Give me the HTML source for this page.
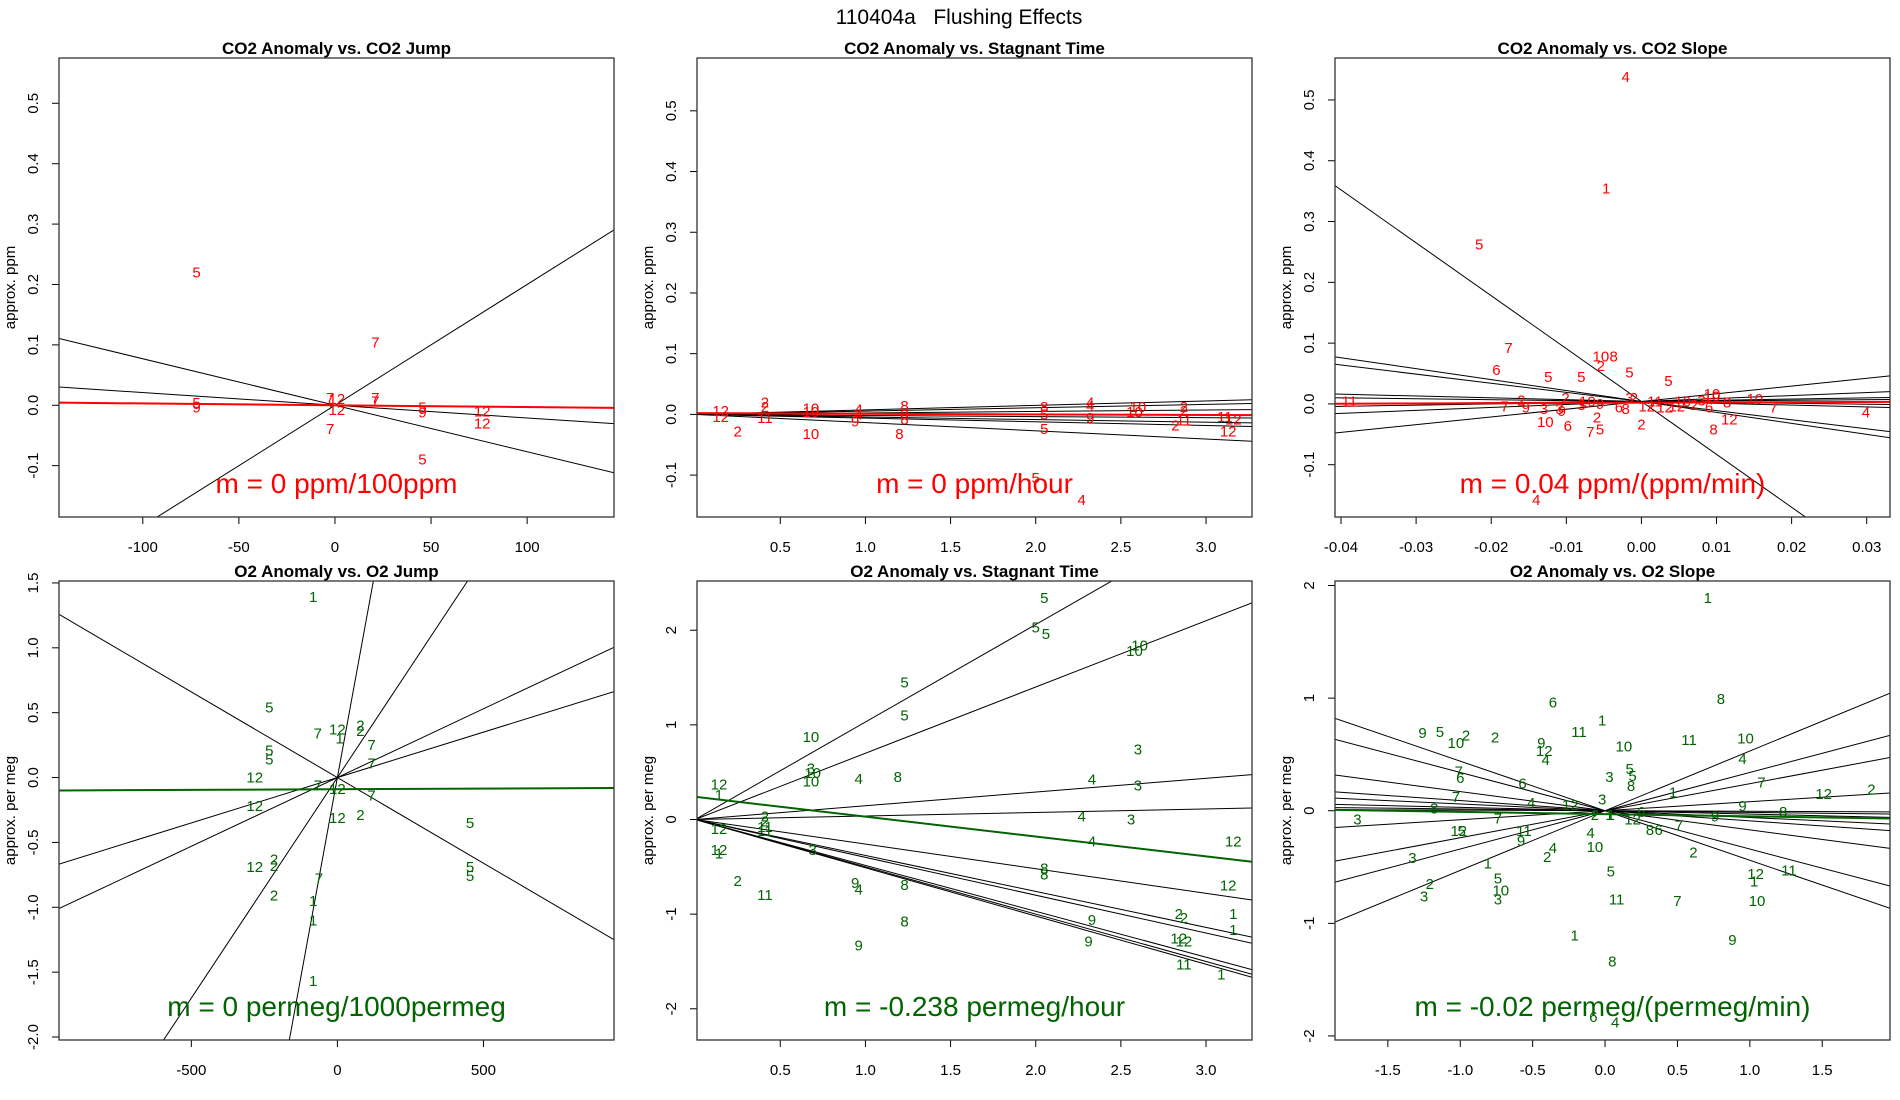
<!DOCTYPE html>
<html><head><meta charset="utf-8">
<style>
html,body{margin:0;padding:0;background:#fff;width:1900px;height:1100px;overflow:hidden;}
svg{display:block;font-family:"Liberation Sans",Arial,sans-serif;}
</style></head>
<body>
<svg id="chart" width="1900" height="1100" viewBox="0 0 1900 1100">
<rect x="0" y="0" width="1900" height="1100" fill="#fff"/>
<text x="959" y="24" font-size="21" text-anchor="middle" xml:space="preserve" style="white-space:pre">110404a   Flushing Effects</text>
</svg>
<script>
// ---------- data arrays (top-level) ----------
// Panel 1: CO2 anomaly vs CO2 jump
const p1Labels = ["5","5","9","7","7","12","12","7","7","7","5","9","12","12","5"];
const p1X = [-72,-72,-72,21,-2.5,1,1,21,21,-2.5,45.5,45.5,76.6,76.6,45.5];
const p1Y = [0.22,0.004,-0.004,0.104,0.012,0.01,-0.008,0.012,0.006,-0.039,-0.004,-0.012,-0.01,-0.03,-0.09];
const p1Slopes = [-0.00077,0.002,-0.00021];
const p1Fit = [0.0,-0.00003];
const p1Text = "m = 0 ppm/100ppm";

// Panel 2: CO2 anomaly vs stagnant time
const p2Labels = ["12","12","2","2","2","11","10","10","10","4","4","9","8","8","8","8","8","5","5","5","4","4","4","9","10","10","2","2","11","2","11","12","12"];
const p2X = [0.15,0.15,0.25,0.41,0.41,0.41,0.68,0.68,0.68,0.96,0.96,0.94,1.23,1.23,1.23,1.2,2.05,2.05,2.05,2.0,2.27,2.32,2.32,2.32,2.6,2.58,2.87,2.87,2.87,2.82,3.11,3.16,3.13];
const p2Y = [0.006,-0.004,-0.028,0.02,0.012,-0.006,0.01,0.004,-0.032,0.008,0.0,-0.012,0.014,0.0,-0.008,-0.032,0.012,0.0,-0.024,-0.105,-0.141,0.02,0.014,-0.006,0.012,0.004,0.012,0.006,-0.01,-0.018,-0.004,-0.008,-0.028];
const p2Slopes = [0.0074,0.0055,0.0024,-0.0018,-0.0043,-0.0061,-0.0135];
const p2Fit = [0.002,-0.001];
const p2Text = "m = 0 ppm/hour";

// Panel 3: CO2 anomaly vs CO2 slope
const p3Labels = ["4","1","5","7","6","10","8","2","5","5","5","5","11","7","2","9","3","3","9","2","10","6","7","5","2","2","8","12","10","10","10","7","4","8","6","4","3","10","9","6","8","3","2","12","11","12","12","10","2","3"];
const p3X = [-0.0021,-0.0047,-0.0216,-0.0177,-0.0193,-0.0054,-0.0037,-0.0054,-0.0124,-0.008,-0.0016,0.0036,-0.0389,-0.0182,-0.016,-0.0154,-0.013,-0.0109,-0.0106,-0.0101,-0.0128,-0.0098,-0.0068,-0.0055,-0.0059,0.0,0.0096,0.0117,0.0094,0.0094,0.0151,0.0176,0.0299,0.0114,0.009,-0.014,-0.008,-0.0072,-0.0055,-0.003,-0.0021,-0.0016,-0.001,0.0007,0.0018,0.0031,0.0047,0.0055,0.007,0.008];
const p3Y = [0.538,0.354,0.262,0.092,0.056,0.078,0.078,0.062,0.044,0.044,0.052,0.038,0.004,-0.004,0.006,-0.006,-0.008,-0.008,-0.012,0.01,-0.03,-0.036,-0.046,-0.042,-0.022,-0.034,-0.042,-0.026,0.016,0.012,0.008,-0.006,-0.014,0.002,-0.006,-0.158,-0.002,0.004,0.0,-0.006,-0.008,0.01,0.01,-0.004,0.004,-0.006,-0.004,0.004,-0.002,0.006];
const p3Slopes = [-8.7,-1.8,-1.5,1.27,0.49,-0.3,-0.15,0.1,0.2];
const p3Intercept = 0.004;
const p3Fit = [0.002,0.04];
const p3Text = "m = 0.04 ppm/(ppm/min)";

// Panel 4: O2 anomaly vs O2 jump
const p4Labels = ["1","5","7","12","1","2","2","7","7","5","5","12","7","12","7","12","12","2","5","2","2","12","5","5","7","2","1","1","1"];
const p4X = [-83,-233,-67,0,8,79,79,117,117,-233,-233,-283,-67,0,117,-283,0,79,454,-217,-217,-283,454,454,-63,-217,-83,-83,-83];
const p4Y = [1.39,0.54,0.34,0.37,0.30,0.40,0.36,0.25,0.11,0.21,0.14,0.0,-0.06,-0.09,-0.14,-0.22,-0.31,-0.29,-0.35,-0.63,-0.68,-0.69,-0.69,-0.76,-0.78,-0.91,-0.95,-1.10,-1.57];
const p4Slopes = [-0.00132,0.00106,0.0007,0.0123,0.0034];
const p4Fit = [-0.09,0.00001];
const p4Text = "m = 0 permeg/1000permeg";

// Panel 5: O2 anomaly vs stagnant time
const p5Labels = ["5","5","5","10","10","5","5","10","3","10","10","4","8","12","1","3","4","3","4","3","2","2","11","11","12","12","1","3","4","12","9","4","8","8","8","2","11","12","8","9","9","2","2","1","1","9","12","12","11","1"];
const p5X = [2.05,2.0,2.06,2.61,2.58,1.23,1.23,0.68,0.68,0.69,0.68,0.96,1.19,0.14,0.14,2.6,2.33,2.6,2.27,2.56,0.41,0.41,0.41,0.41,0.14,0.14,0.14,0.69,2.33,3.16,0.94,0.96,1.23,2.05,2.05,0.25,0.41,3.13,1.23,0.96,2.33,2.84,2.87,3.16,3.16,2.31,2.84,2.87,2.87,3.09];
const p5Y = [2.34,2.03,1.96,1.84,1.78,1.45,1.1,0.87,0.54,0.49,0.4,0.43,0.45,0.37,0.26,0.74,0.42,0.36,0.03,0.0,0.03,-0.02,-0.08,-0.12,-0.1,-0.32,-0.36,-0.32,-0.23,-0.23,-0.67,-0.74,-0.69,-0.52,-0.58,-0.65,-0.8,-0.7,-1.08,-1.33,-1.06,-1.0,-1.04,-1.0,-1.17,-1.29,-1.26,-1.29,-1.53,-1.64];
const p5Slopes = [1.03,0.70,0.145,0.037,-0.26,-0.38,-0.40,-0.485,-0.50,-0.51];
const p5Fit = [0.24,-0.21];
const p5Text = "m = -0.238 permeg/hour";

// Panel 6: O2 anomaly vs O2 slope
const p6Labels = ["1","8","6","1","11","11","10","9","5","10","2","2","9","12","4","10","4","3","5","5","8","7","6","6","7","7","1","3","4","12","12","2","9","8","8","3","7","2","1","1","6","12","9","7","8","6","12","5","11","9","4","2","4","2","10","3","1","12","1","11","5","5","10","3","2","3","11","7","10","1","9","8","6","4"];
const p6X = [0.71,0.80,-0.36,-0.02,-0.18,0.58,0.97,-1.26,-1.14,-1.03,-0.96,-0.76,-0.44,-0.42,-0.41,0.13,0.95,0.03,0.17,0.19,0.18,-1.01,-1.0,-0.57,1.08,-1.03,0.47,-0.02,-0.51,-0.24,1.51,1.84,0.95,-1.18,1.23,-1.71,-0.74,-0.07,0.03,0.04,0.25,0.19,0.76,0.51,0.31,0.37,-1.01,-0.99,-0.56,-0.58,-0.10,0.61,-0.36,-0.40,-0.07,-1.33,-0.81,1.04,1.03,1.27,0.04,-0.74,-0.72,-0.74,-1.21,-1.25,0.08,0.50,1.05,-0.21,0.88,0.05,-0.08,0.07];
const p6Y = [1.89,0.99,0.96,0.80,0.70,0.63,0.64,0.69,0.70,0.60,0.67,0.65,0.60,0.53,0.45,0.57,0.46,0.30,0.37,0.31,0.22,0.35,0.29,0.24,0.25,0.12,0.16,0.10,0.07,0.05,0.15,0.19,0.04,0.02,-0.01,-0.08,-0.07,-0.04,-0.04,-0.04,-0.01,-0.08,-0.05,-0.13,-0.17,-0.17,-0.18,-0.18,-0.18,-0.27,-0.20,-0.37,-0.33,-0.41,-0.32,-0.42,-0.47,-0.56,-0.63,-0.53,-0.54,-0.60,-0.71,-0.79,-0.65,-0.76,-0.79,-0.80,-0.80,-1.11,-1.15,-1.34,-1.83,-1.88];
const p6Slopes = [0.53,0.34,0.24,0.08,-0.005,-0.015,-0.03,-0.06,-0.09,-0.17,-0.34,-0.44];
const p6Fit = [-0.03,-0.02];
const p6Text = "m = -0.02 permeg/(permeg/min)";

// tick labels
const p1XTicks = [-100,-50,0,50,100];
const p2XTicks = [0.5,1.0,1.5,2.0,2.5,3.0];
const p3XTicks = [-0.04,-0.03,-0.02,-0.01,0.00,0.01,0.02,0.03];
const p4XTicks = [-500,0,500];
const p6XTicks = [-1.5,-1.0,-0.5,0.0,0.5,1.0,1.5];
const coYTicks = [-0.1,0.0,0.1,0.2,0.3,0.4,0.5];
const p4YTicks = [-2.0,-1.5,-1.0,-0.5,0.0,0.5,1.0,1.5];
const o2YTicks = [-2,-1,0,1,2];

// ---------- rendering ----------
const NS = "http://www.w3.org/2000/svg";
const svg = document.getElementById("chart");
function mk(tag, attrs, parent){
  const e = document.createElementNS(NS, tag);
  for (const k in attrs) e.setAttribute(k, attrs[k]);
  (parent||svg).appendChild(e);
  return e;
}
const RED = "#ff0000", GREEN = "#006400";
const panels = [
  {id:"co2-jump", title:"CO2 Anomaly vs. CO2 Jump", col:0,row:0, xd:[-143.6,145.2], yd:[-0.185,0.575], labels:p1Labels, xs:p1X, ys:p1Y, slopes:p1Slopes, icpt:0, fit:p1Fit, txt:p1Text, color:RED, xt:p1XTicks, xdp:0, yt:coYTicks, ydp:1, ytitle:"approx. ppm"},
  {id:"co2-stagnant", title:"CO2 Anomaly vs. Stagnant Time", col:1,row:0, xd:[0.011,3.27], yd:[-0.169,0.587], labels:p2Labels, xs:p2X, ys:p2Y, slopes:p2Slopes, icpt:0, fit:p2Fit, txt:p2Text, color:RED, xt:p2XTicks, xdp:1, yt:coYTicks, ydp:1, ytitle:"approx. ppm"},
  {id:"co2-slope", title:"CO2 Anomaly vs. CO2 Slope", col:2,row:0, xd:[-0.0408,0.0331], yd:[-0.186,0.569], labels:p3Labels, xs:p3X, ys:p3Y, slopes:p3Slopes, icpt:p3Intercept, fit:p3Fit, txt:p3Text, color:RED, xt:p3XTicks, xdp:2, yt:coYTicks, ydp:1, ytitle:"approx. ppm"},
  {id:"o2-jump", title:"O2 Anomaly vs. O2 Jump", col:0,row:1, xd:[-953,947], yd:[-2.023,1.515], labels:p4Labels, xs:p4X, ys:p4Y, slopes:p4Slopes, icpt:0, fit:p4Fit, txt:p4Text, color:GREEN, xt:p4XTicks, xdp:0, yt:p4YTicks, ydp:1, ytitle:"approx. per meg"},
  {id:"o2-stagnant", title:"O2 Anomaly vs. Stagnant Time", col:1,row:1, xd:[0.011,3.27], yd:[-2.33,2.52], labels:p5Labels, xs:p5X, ys:p5Y, slopes:p5Slopes, icpt:0, fit:p5Fit, txt:p5Text, color:GREEN, xt:p2XTicks, xdp:1, yt:o2YTicks, ydp:0, ytitle:"approx. per meg"},
  {id:"o2-slope", title:"O2 Anomaly vs. O2 Slope", col:2,row:1, xd:[-1.865,1.968], yd:[-2.036,2.04], labels:p6Labels, xs:p6X, ys:p6Y, slopes:p6Slopes, icpt:0, fit:p6Fit, txt:p6Text, color:GREEN, xt:p6XTicks, xdp:1, yt:o2YTicks, ydp:0, ytitle:"approx. per meg"}
];
const colLeft = [59,697,1335], rowTop = [58,581], W = 555, H = 459;

panels.forEach(p => {
  const L = colLeft[p.col], T = rowTop[p.row], R = L+W, B = T+H;
  const sx = v => L + (v-p.xd[0])/(p.xd[1]-p.xd[0])*W;
  const sy = v => B - (v-p.yd[0])/(p.yd[1]-p.yd[0])*H;
  const g = mk("g", {});
  
  
  const cp = mk("clipPath", {id:"clip-"+p.id}, g);
  mk("rect", {x:L,y:T,width:W,height:H}, cp);

  const title = mk("text", {x:L+W/2, y:T-4, "font-size":17, "font-weight":"bold", "text-anchor":"middle"}, g);
  title.textContent = p.title;
  
  

  const yTitle = mk("text", {transform:`translate(${L-44},${T+H/2}) rotate(-90)`, "font-size":15, "text-anchor":"middle"}, g);
  yTitle.textContent = p.ytitle;
  
  

  p.xt.forEach(v => {
    const x = sx(v);
    const tk = mk("line", {x1:x,y1:B,x2:x,y2:B+7,stroke:"#000","stroke-width":1}, g);
    
    
    const t = mk("text", {x:x, y:B+35, "font-size":15, "text-anchor":"middle"}, g);
    t.textContent = v.toFixed(p.xdp);
    
    
  });
  p.yt.forEach(v => {
    const y = sy(v);
    const tk = mk("line", {x1:L-7,y1:y,x2:L,y2:y,stroke:"#000","stroke-width":1}, g);
    
    
    const t = mk("text", {transform:`translate(${L-21},${y}) rotate(-90)`, "font-size":15, "text-anchor":"middle"}, g);
    t.textContent = v.toFixed(p.ydp);
    
    
  });

  const inner = mk("g", {"clip-path":`url(#clip-${p.id})`}, g);
  p.slopes.forEach(m => {
    const ln = mk("line", {x1:sx(p.xd[0]), y1:sy(p.icpt+m*p.xd[0]), x2:sx(p.xd[1]), y2:sy(p.icpt+m*p.xd[1]), stroke:"#000","stroke-width":1}, inner);
    
    
  });
  p.labels.forEach((lab,i) => {
    const t = mk("text", {x:sx(p.xs[i]), y:sy(p.ys[i])+5, "font-size":15, fill:p.color, "text-anchor":"middle"}, inner);
    t.textContent = lab;
    
    
  });
  const f = mk("line", {x1:sx(p.xd[0]), y1:sy(p.fit[0]+p.fit[1]*p.xd[0]), x2:sx(p.xd[1]), y2:sy(p.fit[0]+p.fit[1]*p.xd[1]), stroke:p.color,"stroke-width":2}, inner);
  
  

  const st = mk("text", {x:L+W/2, y:B-24, "font-size":28, fill:p.color, "text-anchor":"middle"}, g);
  st.textContent = p.txt;
  
  

  const box = mk("rect", {x:L,y:T,width:W,height:H,fill:"none",stroke:"#333","stroke-width":1.3}, g);
  
  
});
</script>
</body></html>
